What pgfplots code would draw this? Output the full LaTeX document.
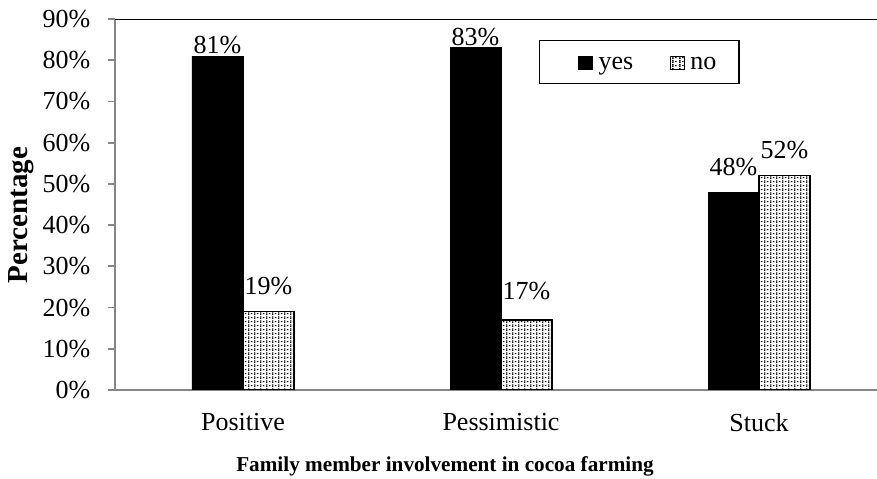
\documentclass[border=0pt]{standalone}
\usepackage{fontspec}
\setmainfont{Liberation Serif}
\usepackage{pgfplots}
\pgfplotsset{compat=1.18}
\usepackage{pgfplotstable}
\usetikzlibrary{patterns}

% dotted columns used for the "no" bars: a dense column and a sparser one
\pgfdeclarepatternformonly{cocoadots}{\pgfqpoint{0bp}{0bp}}{\pgfqpoint{3.2bp}{2bp}}{\pgfqpoint{3.2bp}{2bp}}{%
  \pgfpathrectangle{\pgfqpoint{0bp}{0bp}}{\pgfqpoint{0.8bp}{0.7bp}}%
  \pgfpathrectangle{\pgfqpoint{0bp}{1bp}}{\pgfqpoint{0.8bp}{0.7bp}}%
  \pgfpathrectangle{\pgfqpoint{1.6bp}{0.5bp}}{\pgfqpoint{0.8bp}{0.6bp}}%
  \pgfusepath{fill}}

% x = category index, y = percentage, dy = label lift above the bar (bp)
\pgfplotstableread{
x y dy
0 81 0.7
1 83 0.8
2 48 8.0
}\yesdata
\pgfplotstableread{
x y dy
0 19 8.3
1 17 9.5
2 52 8.3
}\nodata

\definecolor{axisgray}{HTML}{868686}

\begin{document}
\begin{tikzpicture}[font=\fontsize{13bp}{15bp}\selectfont]
\useasboundingbox (0,0) rectangle (438.5bp,239.5bp);
\begin{axis}[
  at={(57.35bp,44.5bp)}, anchor=south west,
  scale only axis, width=381.15bp, height=185.5bp,
  xmin=-0.497, xmax=2.457, ymin=0, ymax=90,
  ybar, bar width=25.5bp,
  axis x line*=bottom, axis y line*=left,
  axis line style={axisgray, line width=0.9bp},
  xtick={0,1,2}, xticklabels={Positive,Pessimistic,Stuck},
  x tick style={draw=none},
  xticklabel style={anchor=north, inner sep=0pt, yshift=-8bp},
  ytick={0,10,...,90},
  yticklabel={\pgfmathprintnumber{\tick}\%},
  y tick style={axisgray, line width=0.9bp},
  yticklabel style={anchor=east, inner sep=0pt, xshift=-8.5bp},
  tick align=outside, major tick length=3.5bp,
  /pgf/number format/assume math mode=true,
  nodes near coords={\pgfmathprintnumber{\pgfplotspointmeta}\%},
  legend columns=2,
  legend image code/.code={%
    \path (-9bp,0bp) (8.5bp,0bp);
    \draw[#1, line width=0.6bp] (0bp,-3.5bp) rectangle (7bp,3bp);},
  legend style={at={(0.5566,0.9434)}, anchor=north west,
    draw=black, line width=0.7bp, inner xsep=10bp, inner ysep=4.2bp,
    nodes={inner xsep=1.25bp, inner ysep=0pt, text height=10bp, text depth=3bp},
    /tikz/every even column/.append style={column sep=8bp}},
]
\addplot[fill=black, draw=black, bar shift=-12.75bp,
  visualization depends on={\thisrow{dy} \as \dy},
  every node near coord/.append style={anchor=south, inner sep=0pt, yshift=\dy bp}]
  table[x=x, y=y] {\yesdata};
\addplot[draw=black, line width=0.6bp, pattern=cocoadots, bar shift=12.75bp,
  visualization depends on={\thisrow{dy} \as \dy},
  every node near coord/.append style={anchor=south, inner sep=0pt, yshift=\dy bp}]
  table[x=x, y=y] {\nodata};
\legend{yes, no}
\draw[black, line width=1bp] (rel axis cs:0,1) -- (rel axis cs:1,1);
\end{axis}
\node[rotate=90, font=\fontsize{14.5bp}{16bp}\selectfont\bfseries] at (10.5bp,132bp) {Percentage};
\node[font=\fontsize{10.6bp}{13bp}\selectfont\bfseries] at (222.5bp,6.5bp) {Family member involvement in cocoa farming};
\end{tikzpicture}
\end{document}
